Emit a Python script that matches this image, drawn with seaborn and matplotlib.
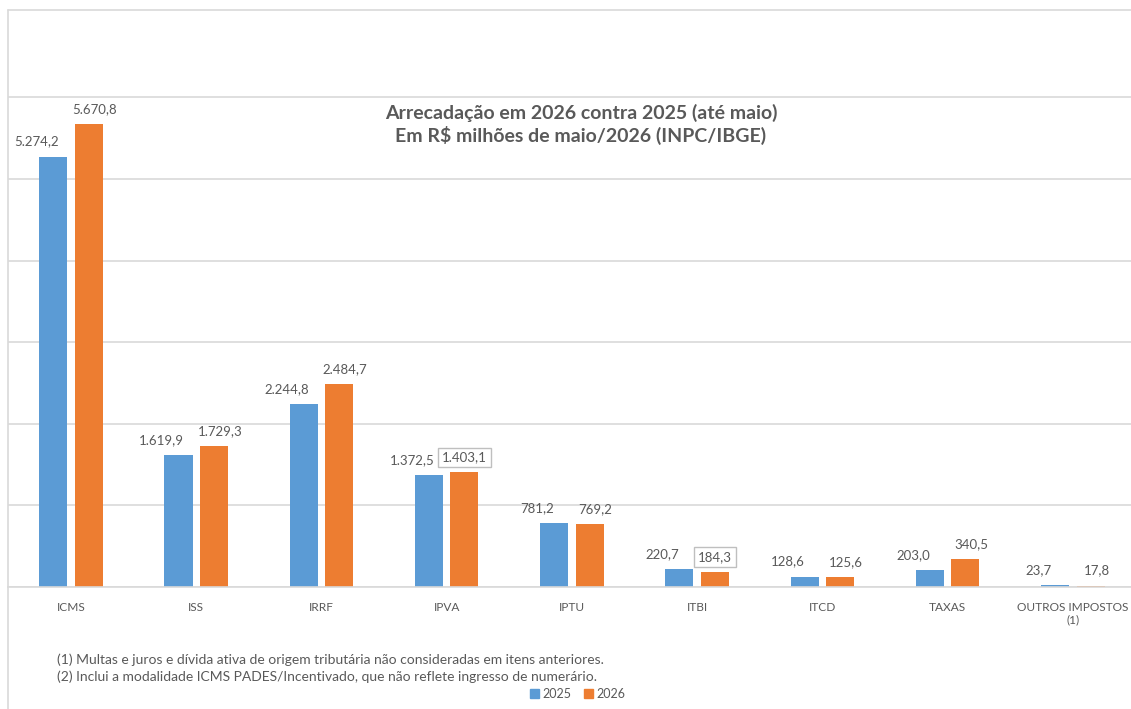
import matplotlib
matplotlib.use("Agg")
import matplotlib.pyplot as plt
from matplotlib.lines import Line2D
import seaborn as sns
import pandas as pd

categories = ["ICMS", "ISS", "IRRF", "IPVA", "IPTU", "ITBI", "ITCD", "TAXAS", "OUTROS IMPOSTOS\n(1)"]
years = ["2025", "2026"]
values_2025 = [5274.2, 1619.9, 2244.8, 1372.5, 781.2, 220.7, 128.6, 203.0, 23.7]
values_2026 = [5670.8, 1729.3, 2484.7, 1403.1, 769.2, 184.3, 125.6, 340.5, 17.8]
boxed_2026 = ["IPVA", "ITBI"]
yticks = [0, 1000, 2000, 3000, 4000, 5000, 6000]
title = "Arrecadação em 2026 contra 2025 (até maio)\nEm R$ milhões de maio/2026 (INPC/IBGE)"
notes = ["(1) Multas e juros e dívida ativa de origem tributária não consideradas em itens anteriores.",
         "(2) Inclui a modalidade ICMS PADES/Incentivado, que não reflete ingresso de numerário."]

def fmt(v):
    s = f"{v:,.1f}"
    return s.replace(",", "X").replace(".", ",").replace("X", ".")

df = pd.DataFrame({
    "cat": categories * 2,
    "ano": [years[0]] * len(categories) + [years[1]] * len(categories),
    "valor": values_2025 + values_2026,
})

sns.set_theme(style="white")
plt.rcParams["font.family"] = ["Lato", "DejaVu Sans"]
TXT = "#595959"
GRID = "#D9D9D9"
colors = {"2025": "#5B9BD5", "2026": "#ED7D31"}

W, H = 1131, 709
fig = plt.figure(figsize=(W / 100, H / 100), dpi=100)
ax = fig.add_axes([8.4 / W, 1 - 587 / H, 1127 / W, (587 - 10) / H])

sns.barplot(data=df, x="cat", y="valor", hue="ano", palette=colors, ax=ax,
            width=0.567, gap=0.21, legend=False, saturation=1, edgecolor="none")

ax.set_ylim(0, 7070)
ax.set_xlim(-0.5, len(categories) - 0.5)
ax.set_yticks(yticks)
ax.yaxis.grid(True, color=GRID, linewidth=1.2)
ax.set_axisbelow(True)
ax.tick_params(axis="y", left=False, labelleft=False)
ax.tick_params(axis="x", bottom=False, pad=5, labelsize=8.6, colors=TXT)
for lbl in ax.get_xticklabels():
    lbl.set_color(TXT)
    lbl.set_linespacing(1.15)
ax.set_xlabel("")
ax.set_ylabel("")
for s in ["left", "right", "top"]:
    ax.spines[s].set_visible(False)
ax.spines["bottom"].set_color(GRID)
ax.spines["bottom"].set_linewidth(1.2)

# value labels
for ci, cont in enumerate(ax.containers):
    dx = -17 if ci == 0 else 6
    for i, bar in enumerate(cont):
        v = bar.get_height()
        x = bar.get_x() + bar.get_width() / 2
        boxed = (ci == 1 and categories[i] in boxed_2026)
        bbox = dict(boxstyle="square,pad=0.3", fc="white", ec="#BFBFBF", lw=1) if boxed else None
        ax.annotate(fmt(v), (x, v), xytext=(dx if not boxed else 0, 15), textcoords="offset pixels",
                    ha="center", va="center", fontsize=9.5, color=TXT, bbox=bbox)

# chart frame (top and left border)
fig.add_artist(Line2D([8 / W, 1], [1 - 10 / H, 1 - 10 / H], transform=fig.transFigure, color=GRID, lw=1.2))
fig.add_artist(Line2D([8 / W, 8 / W], [0, 1 - 10 / H], transform=fig.transFigure, color=GRID, lw=1.2))

fig.text(581 / W, 1 - 124 / H, title, ha="center", va="center", fontsize=14, fontweight="bold",
         color=TXT, linespacing=1.25)

fig.text(57 / W, 1 - 660 / H, notes[0], ha="left", va="center", fontsize=10, color=TXT)
fig.text(57 / W, 1 - 677 / H, notes[1], ha="left", va="center", fontsize=10, color=TXT)

handles = [plt.Rectangle((0, 0), 1, 1, color=colors[y]) for y in years]
fig.legend(handles, years, loc="center", bbox_to_anchor=(578 / W, 1 - 694 / H), ncol=2, frameon=False,
           fontsize=9, labelcolor=TXT, handlelength=0.7, handleheight=0.7, handletextpad=0.3,
           columnspacing=1.0, borderpad=0)

fig.savefig("out.png", dpi=100, facecolor="white")
